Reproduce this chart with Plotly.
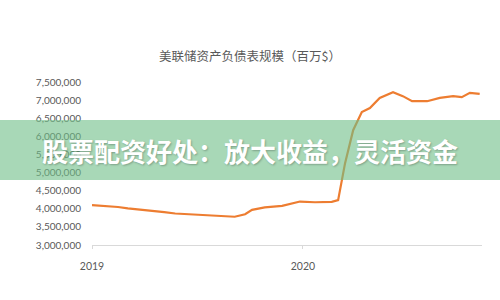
import plotly.graph_objects as go

title_text = "美联储资产负债表规模（百万$）"
banner_text = "股票配资好处：放大收益，灵活资金"

dates = [
    "2019-01-01", "2019-01-15", "2019-02-01", "2019-02-15", "2019-03-04",
    "2019-03-25", "2019-04-15", "2019-05-06", "2019-05-25", "2019-06-20",
    "2019-07-16", "2019-08-10", "2019-08-28", "2019-09-05", "2019-09-23",
    "2019-10-05", "2019-10-27", "2019-11-26", "2019-12-27", "2020-01-22",
    "2020-02-20", "2020-03-02", "2020-03-14", "2020-03-28", "2020-04-12",
    "2020-04-26", "2020-05-13", "2020-06-05", "2020-06-22", "2020-07-08",
    "2020-08-03", "2020-08-25", "2020-09-17", "2020-10-02", "2020-10-16",
    "2020-11-02",
]
values = [
    4100000, 4090000, 4070000, 4050000, 4010000,
    3980000, 3950000, 3910000, 3870000, 3850000,
    3830000, 3810000, 3800000, 3780000, 3850000,
    3970000, 4040000, 4080000, 4200000, 4180000,
    4190000, 4240000, 5260000, 6170000, 6670000,
    6780000, 7060000, 7220000, 7110000, 6970000,
    6970000, 7060000, 7110000, 7080000, 7200000,
    7170000,
]
y_ticks = [3000000, 3500000, 4000000, 4500000, 5000000, 5500000,
           6000000, 6500000, 7000000, 7500000]
y_tick_labels = [f"{v:,}" for v in y_ticks]
x_ticks = ["2019-01-01", "2020-01-01"]
x_tick_labels = ["2019", "2020"]

fig = go.Figure()
fig.add_trace(go.Scatter(
    x=dates, y=values, mode="lines",
    line=dict(color="#ED7D31", width=2.2),
    hoverinfo="skip",
))

L, R, T, B = 92, 18, 82, 55
W, H = 500, 300
pw, ph = W - L - R, H - T - B

fig.update_layout(
    width=W, height=H,
    margin=dict(l=L, r=R, t=T, b=B),
    paper_bgcolor="white", plot_bgcolor="white",
    showlegend=False,
    title=dict(text=title_text, x=0.5, xanchor="center", y=1 - 57 / H,
               yanchor="middle", xref="container", yref="container",
               font=dict(family="Noto Sans CJK SC", size=12.5, color="#595959")),
    xaxis=dict(
        type="date", range=["2019-01-01", "2020-11-06"],
        tickvals=x_ticks, ticktext=x_tick_labels,
        showgrid=False, zeroline=False,
        showline=True, linecolor="#D9D9D9", linewidth=1,
        ticks="outside", ticklen=3, tickcolor="#D9D9D9",
        tickfont=dict(family="Lato", size=10.5, color="#595959"),
        ticklabelstandoff=8,
    ),
    yaxis=dict(
        range=[3000000, 7500000],
        tickvals=y_ticks, ticktext=y_tick_labels,
        showgrid=False, zeroline=False, showline=False,
        tickfont=dict(family="Lato", size=10, color="#595959"),
        ticklabelstandoff=10,
    ),
    shapes=[dict(
        type="rect", xref="paper", yref="paper", layer="above",
        x0=-L / pw, x1=1 + R / pw,
        y0=(H - B - 180) / ph, y1=(H - B - 120) / ph,
        fillcolor="rgba(110,190,135,0.6)", line=dict(width=0),
    )],
    annotations=[dict(
        text=banner_text, xref="paper", yref="paper",
        x=(250 - L) / pw, y=(H - B - 150) / ph,
        xanchor="center", yanchor="middle", showarrow=False,
        font=dict(family="Noto Sans CJK SC", size=26, color="white",
                  weight="bold", shadow="1px 1px 2px rgba(0,0,0,0.25)"),
    )],
)

fig.write_html("out.html")
